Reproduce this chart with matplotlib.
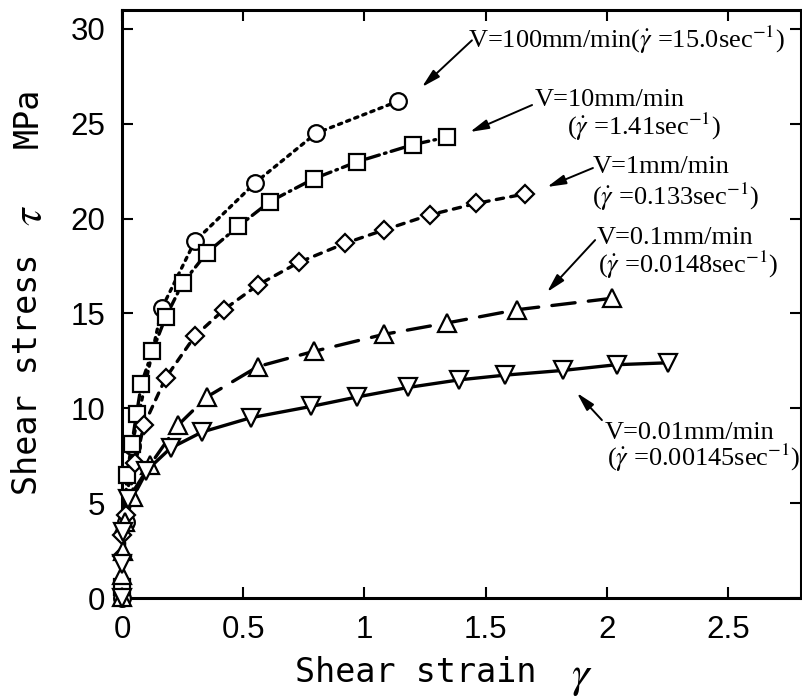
import matplotlib
matplotlib.use('Agg')
import matplotlib.pyplot as plt

plt.rcParams['mathtext.fontset'] = 'stix'

# V = 100 mm/min
circ_x = [0.0, 0.015, 0.04, 0.165, 0.30, 0.55, 0.80, 1.14]
circ_y = [0.0, 4.0, 8.0, 15.3, 18.8, 21.9, 24.5, 26.2]
# V = 10 mm/min
sq_x = [0.0, 0.02, 0.04, 0.06, 0.08, 0.125, 0.18, 0.25, 0.35, 0.48, 0.61, 0.79, 0.97, 1.20, 1.34]
sq_y = [0.6, 6.5, 8.1, 9.7, 11.3, 13.0, 14.8, 16.6, 18.2, 19.6, 20.9, 22.1, 23.0, 23.9, 24.3]
# V = 1 mm/min
dia_x = [0.0, 0.0, 0.015, 0.055, 0.09, 0.18, 0.30, 0.42, 0.56, 0.73, 0.92, 1.08, 1.27, 1.46, 1.66]
dia_y = [2.2, 3.3, 4.4, 7.1, 9.1, 11.6, 13.8, 15.2, 16.5, 17.7, 18.7, 19.4, 20.2, 20.8, 21.3]
# V = 0.1 mm/min
up_x = [0.0, 0.0, 0.004, 0.012, 0.045, 0.115, 0.23, 0.35, 0.56, 0.79, 1.08, 1.34, 1.63, 2.02]
up_y = [0.05, 1.2, 2.5, 4.0, 5.3, 7.0, 9.1, 10.6, 12.2, 13.0, 13.9, 14.5, 15.2, 15.8]
# V = 0.01 mm/min
dn_x = [0.0, 0.0, 0.005, 0.025, 0.10, 0.20, 0.33, 0.53, 0.78, 0.97, 1.18, 1.39, 1.58, 1.82, 2.04, 2.25]
dn_y = [0.0, 1.8, 3.5, 5.2, 6.7, 7.9, 8.75, 9.5, 10.1, 10.6, 11.1, 11.5, 11.75, 12.0, 12.3, 12.4]

xticks = [0, 0.5, 1, 1.5, 2, 2.5]
xtick_labels = ['0', '0.5', '1', '1.5', '2', '2.5']
yticks = [0, 5, 10, 15, 20, 25, 30]
ytick_labels = ['0', '5', '10', '15', '20', '25', '30']

fig = plt.figure(figsize=(8.02, 6.96), dpi=100)
ax = fig.add_axes([122/802, 98/696, 679/802, 588/696])

series = [
    (circ_x, circ_y, 'o', 12, [1.0, 1.6]),
    (sq_x, sq_y, 's', 11.5, [4.0, 1.6, 0.5, 1.6]),
    (dia_x, dia_y, 'D', 9, [2.2, 2.2]),
    (up_x, up_y, '^', 12.5, [7.0, 4.0]),
    (dn_x, dn_y, 'v', 12.5, None),
]
for x, y, m, ms, dash in series:
    ln, = ax.plot(x, y, color='k', lw=2.4, solid_capstyle='round', clip_on=False, zorder=2)
    if dash is not None:
        ln.set_dashes(dash)
        ln.set_dash_capstyle('round')
    ax.plot(x, y, m, ms=ms, mfc='white', mec='k', mew=1.6, ls='none', clip_on=False, zorder=3)

ax.set_xlim(0, 2.8)
ax.set_ylim(0, 31)
ax.set_xticks(xticks)
ax.set_xticklabels(xtick_labels)
ax.set_yticks(yticks)
ax.set_yticklabels(ytick_labels)
ax.tick_params(direction='in', length=8, width=1.5, top=True, right=True,
               labelsize=22.5, pad=12)
for lab in ax.get_xticklabels() + ax.get_yticklabels():
    lab.set_fontfamily('Liberation Sans')
for s in ax.spines.values():
    s.set_linewidth(2.2)

tfont = dict(family='Liberation Serif', fontsize=19, va='center', ha='left')
ax.text(1.427, 29.4, r'V=100mm/min($\dot{\gamma}$ =15.0sec$^{-1}$)', **tfont)
ax.text(1.703, 26.25, 'V=10mm/min', **tfont)
ax.text(1.835, 24.83, r'($\dot{\gamma}$ =1.41sec$^{-1}$)', **tfont)
ax.text(1.942, 22.72, 'V=1mm/min', **tfont)
ax.text(1.938, 21.14, r'($\dot{\gamma}$ =0.133sec$^{-1}$)', **tfont)
ax.text(1.959, 18.98, 'V=0.1mm/min', **tfont)
ax.text(1.963, 17.55, r'($\dot{\gamma}$ =0.0148sec$^{-1}$)', **tfont)
ax.text(1.992, 8.70, 'V=0.01mm/min', **tfont)
ax.text(2.0, 7.38, r'($\dot{\gamma}$ =0.00145sec$^{-1}$)', **tfont)

arrows = [((1.237, 26.94), (1.443, 29.4)),
          ((1.435, 24.57), (1.691, 25.99)),
          ((1.753, 21.67), (1.942, 22.67)),
          ((1.753, 16.13), (1.951, 18.87)),
          ((1.876, 10.81), (1.979, 9.38))]
for head, tail in arrows:
    ax.annotate('', xy=head, xytext=tail,
                arrowprops=dict(arrowstyle='-|>,head_length=0.7,head_width=0.18',
                                color='k', lw=1.4, mutation_scale=16,
                                shrinkA=0, shrinkB=0))

# axis titles: monospace gothic-like text with italic greek symbols
fig.text(295/802, 1 - 673/696, 'Shear strain', family='DejaVu Sans Mono',
         fontsize=24, ha='left', va='center')
fig.text(582/802, 1 - 676/696, r'$\gamma$', fontsize=32, ha='center', va='center')
fig.text(28/802, 1 - 495/696, 'Shear stress', family='DejaVu Sans Mono',
         fontsize=24, ha='center', va='bottom', rotation=90)
fig.text(30/802, 1 - 216/696, r'$\tau$', fontsize=32, ha='center', va='center',
         rotation=90)
fig.text(28/802, 1 - 118/696, 'MPa', family='DejaVu Sans Mono',
         fontsize=24, ha='center', va='center', rotation=90)

fig.savefig('out.png', dpi=100)
